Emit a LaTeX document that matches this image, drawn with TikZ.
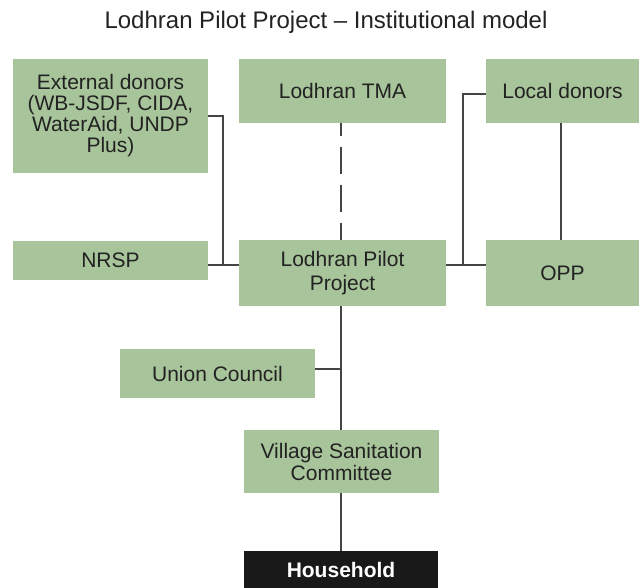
\documentclass[tikz,border=0pt]{standalone}
\usepackage{fontspec}
\setmainfont{Liberation Sans}
\definecolor{boxgreen}{HTML}{A8C49A}
\definecolor{txt}{HTML}{222222}
\definecolor{ln}{HTML}{444444}
\begin{document}
\begin{tikzpicture}[x=1pt,y=1pt,
  box/.style={fill=boxgreen,draw=none,inner sep=0pt,align=center,text=txt,
    font=\fontsize{21}{21}\selectfont},
  conn/.style={draw=ln,line width=1.2pt},
  dashconn/.style={draw=ln,line width=1.2pt,dash pattern=on 27pt off 11pt,dash phase=14pt}]
\useasboundingbox (0,0) rectangle (639,-588);
\node[font=\fontsize{24}{26}\selectfont,text=txt,anchor=base,inner sep=0pt] (title) at (326,-28.5) {Lodhran Pilot Project -- Institutional model};
\node[box,minimum width=195,minimum height=114] (ext) at (110.5,-116) {External donors\\(WB-JSDF, CIDA,\\WaterAid, UNDP\\Plus)};
\node[box,minimum width=207,minimum height=64] (tma) at (342.5,-91) {Lodhran TMA};
\node[box,minimum width=153,minimum height=64] (local) at (562.5,-91) {Local donors};
\node[box,minimum width=195,minimum height=39] (nrsp) at (110.5,-260) {NRSP};
\node[box,minimum width=207,minimum height=66,font=\fontsize{21}{24}\selectfont] (lpp) at (342.5,-273) {Lodhran Pilot\\Project};
\node[box,minimum width=153,minimum height=66] (opp) at (562.5,-273) {OPP};
\node[box,minimum width=195,minimum height=49] (uc) at (217.5,-373.5) {Union Council};
\node[box,minimum width=195,minimum height=63,font=\fontsize{21}{22}\selectfont] (vsc) at (341.5,-461.5) {Village Sanitation\\Committee};
\node[fill=black!90,inner sep=0pt,minimum width=194,minimum height=37,text=white,
  font=\fontsize{21}{22}\selectfont\bfseries] (hh) at (341,-569.5) {Household};
\coordinate (jl) at (223,-265);
\coordinate (jr) at (463,-265);
\coordinate (ju) at (341,-369);
\draw[conn] (ext.east) -| (jl) -- (lpp.west |- jl);
\draw[conn] (nrsp.east |- jl) -- (jl);
\draw[conn] ([yshift=-3pt]local.west) -| (jr);
\draw[conn] (lpp.east |- jr) -- (opp.west |- jr);
\draw[conn] ([xshift=-1.5pt]local.south) -- ([xshift=-1.5pt]opp.north);
\draw[dashconn] ([xshift=-1.5pt]tma.south) -- ([xshift=-1.5pt]lpp.north);
\draw[conn] ([xshift=-1.5pt]lpp.south) -- (vsc.north -| ju);
\draw[conn] (uc.east |- ju) -- (ju);
\draw[conn] (vsc.south -| ju) -- (hh.north -| ju);
\end{tikzpicture}
\end{document}
